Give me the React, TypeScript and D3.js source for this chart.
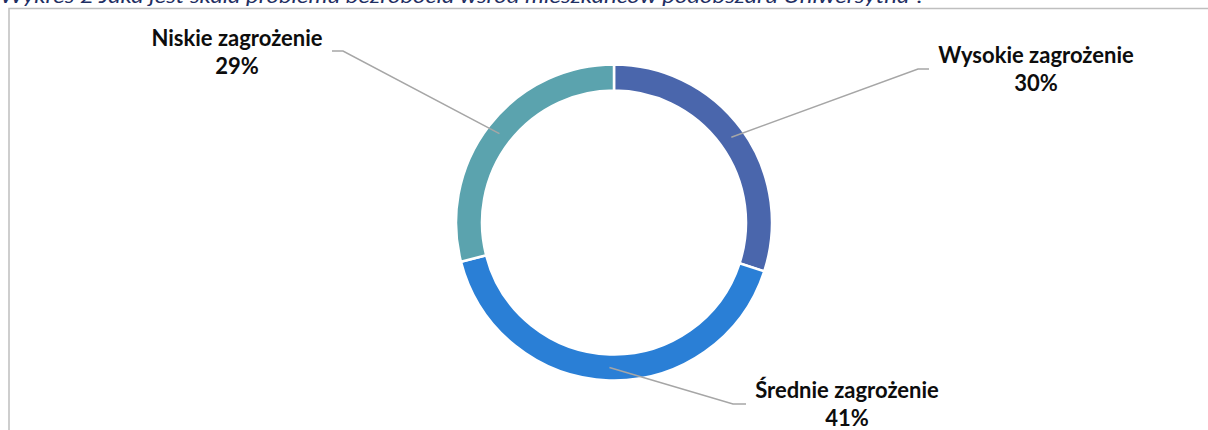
import React from 'react';
import * as d3 from 'd3';

const titleText = 'Wykres 2 Jaka jest skala problemu bezrobocia wśród mieszkańców podobszaru Uniwersytna ?';
const categories = ['Wysokie zagrożenie', 'Średnie zagrożenie', 'Niskie zagrożenie'];
const values = [30, 41, 29];
const percentLabels = ['30%', '41%', '29%'];
const colors = ['#4a66ac', '#2a7fd6', '#5ba3ae'];

// label layout: text centre x, first baseline y, leader elbow x, leader end x, leader y
const labelLayout = [
  { cx: 1036, y: 63, elbowX: 918, endX: 929, ly: 69 },
  { cx: 847, y: 398, elbowX: 733, endX: 746, ly: 404 },
  { cx: 237, y: 46, elbowX: 343, endX: 332, ly: 51 },
];

const W = 1208;
const H = 430;
const cx = 614;
const cy = 222.5;
const outerR = 158;
const innerR = 132;

export default function App() {
  const pie = d3.pie<number>().sort(null).value((d) => d);
  const arcs = pie(values);
  const arc = d3.arc<d3.PieArcDatum<number>>().innerRadius(innerR).outerRadius(outerR);
  const midArc = d3.arc<d3.PieArcDatum<number>>().innerRadius(145).outerRadius(145);

  return (
    <div style={{ position: 'fixed', left: 0, top: 0, width: W, height: H, background: '#fff' }}>
      <svg width={W} height={H} style={{ display: 'block' }}>
        <text
          x={0}
          y={3}
          fontFamily="Lato, 'Open Sans', sans-serif"
          fontStyle="italic"
          fontSize={20}
          fill="#1f2f63"
          textLength={925}
          lengthAdjust="spacingAndGlyphs"
        >
          {titleText}
        </text>
        <rect x={9} y={8.5} width={1250} height={500} fill="none" stroke="#bfbfbf" strokeWidth={1.5} />
        <g transform={`translate(${cx},${cy})`}>
          {arcs.map((a, i) => (
            <path key={categories[i]} d={arc(a) || ''} fill={colors[i]} stroke="#fff" strokeWidth={2.5} />
          ))}
        </g>
        {arcs.map((a, i) => {
          const [px, py] = midArc.centroid(a);
          const L = labelLayout[i];
          return (
            <polyline
              key={'l' + i}
              points={`${cx + px},${cy + py} ${L.elbowX},${L.ly} ${L.endX},${L.ly}`}
              fill="none"
              stroke="#a6a6a6"
              strokeWidth={1.5}
            />
          );
        })}
        {categories.map((c, i) => {
          const L = labelLayout[i];
          return (
            <g key={'t' + i} fontFamily="Lato, 'Open Sans', sans-serif" fontWeight="bold" fontSize={22} fill="#0d0d0d" textAnchor="middle">
              <text x={L.cx} y={L.y}>{c}</text>
              <text x={L.cx} y={L.y + 28}>{percentLabels[i]}</text>
            </g>
          );
        })}
      </svg>
    </div>
  );
}
